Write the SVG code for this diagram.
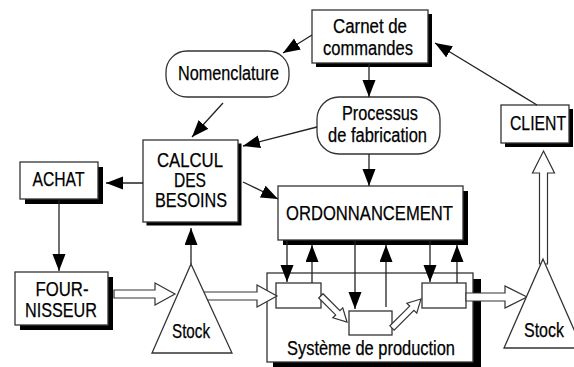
<svg xmlns="http://www.w3.org/2000/svg" width="574" height="367" viewBox="0 0 574 367">
  <style>
    .box { fill: #fff; stroke: #333; stroke-width: 1.3; }
    .shadow { fill: #000; }
    .pill { fill: #fff; stroke: #333; stroke-width: 1.3; }
    .tri { fill: #fff; stroke: #333; stroke-width: 1.3; }
    .hollow { fill: #fff; stroke: #333; stroke-width: 1.2; stroke-linejoin: miter; }
    .link { fill: none; stroke: #222; stroke-width: 1.3; marker-end: url(#ah); }
    text { font-family: "Liberation Sans", Arial, sans-serif; font-size: 20px; fill: #000; stroke: #000; stroke-width: 0.25; text-anchor: middle; }
  </style>
  <defs>
    <marker id="ah" markerUnits="userSpaceOnUse" markerWidth="18" markerHeight="14" refX="17" refY="6.5" orient="auto">
      <path d="M0,0 L17,6.5 L0,13 z" fill="#000"/>
    </marker>
  </defs>

  <rect width="574" height="367" fill="#fff"/>

  <!-- Order book -->
  <g id="carnet">
    <rect class="shadow" x="316" y="14" width="116" height="53"/>
    <rect class="box" x="312" y="10" width="116" height="53"/>
    <text x="370" y="33" textLength="74" lengthAdjust="spacingAndGlyphs">Carnet de</text>
    <text x="368" y="55" textLength="90" lengthAdjust="spacingAndGlyphs">commandes</text>
  </g>

  <!-- Bill of materials -->
  <g id="nomenclature">
    <rect class="pill" x="166" y="51" width="123" height="46" rx="21" ry="21"/>
    <text x="228.5" y="80" textLength="101" lengthAdjust="spacingAndGlyphs">Nomenclature</text>
  </g>

  <!-- Manufacturing process -->
  <g id="processus">
    <rect class="pill" x="317" y="97" width="123" height="57" rx="22" ry="22"/>
    <text x="380" y="120" textLength="76" lengthAdjust="spacingAndGlyphs">Processus</text>
    <text x="377.5" y="142" textLength="99" lengthAdjust="spacingAndGlyphs">de fabrication</text>
  </g>

  <!-- Customer -->
  <g id="client">
    <rect class="shadow" x="505" y="109" width="68" height="38"/>
    <rect class="box" x="501" y="105" width="68" height="38"/>
    <text x="538" y="130" font-size="18" textLength="56" lengthAdjust="spacingAndGlyphs">CLIENT</text>
  </g>

  <!-- Requirements calculation -->
  <g id="calcul">
    <rect class="shadow" x="146.5" y="143.5" width="95" height="82"/>
    <rect class="box" x="143" y="140" width="95" height="82"/>
    <text x="190" y="167" textLength="66" lengthAdjust="spacingAndGlyphs">CALCUL</text>
    <text x="190" y="187" textLength="32" lengthAdjust="spacingAndGlyphs">DES</text>
    <text x="191" y="207" textLength="72" lengthAdjust="spacingAndGlyphs">BESOINS</text>
  </g>

  <!-- Purchasing -->
  <g id="achat">
    <rect class="shadow" x="25" y="167" width="78" height="37"/>
    <rect class="box" x="20" y="162" width="78" height="37"/>
    <text x="58.5" y="186" textLength="52" lengthAdjust="spacingAndGlyphs">ACHAT</text>
  </g>

  <!-- Supplier -->
  <g id="fournisseur">
    <rect class="shadow" x="20" y="277" width="93" height="53"/>
    <rect class="box" x="15" y="272" width="93" height="53"/>
    <text x="62" y="296" textLength="53" lengthAdjust="spacingAndGlyphs">FOUR-</text>
    <text x="61" y="317" textLength="72" lengthAdjust="spacingAndGlyphs">NISSEUR</text>
  </g>

  <!-- Scheduling -->
  <g id="ordonnancement">
    <rect class="shadow" x="283" y="191" width="185" height="54"/>
    <rect class="box" x="278" y="186" width="185" height="54"/>
    <text x="369.5" y="220" textLength="167" lengthAdjust="spacingAndGlyphs">ORDONNANCEMENT</text>
  </g>

  <!-- Production system with its three workstations -->
  <g id="systeme">
    <rect class="shadow" x="273" y="279" width="208" height="88"/>
    <rect class="box" x="267" y="273" width="206" height="89"/>
    <text x="371" y="355" textLength="168" lengthAdjust="spacingAndGlyphs">Système de production</text>
  </g>
  <g id="poste1"><rect class="box" x="276" y="283" width="45" height="25"/></g>
  <g id="poste2"><rect class="box" x="349" y="311" width="43" height="24"/></g>
  <g id="poste3"><rect class="box" x="422" y="283" width="44" height="25"/></g>

  <!-- Connectors -->
  <g id="connectors">
    <line class="link" x1="312" y1="35" x2="283" y2="53"/>
    <line class="link" x1="369" y1="63" x2="369" y2="97"/>
    <line class="link" x1="369" y1="154" x2="369" y2="186"/>
    <line class="link" x1="537" y1="105" x2="435" y2="43"/>
    <line class="link" x1="317" y1="127" x2="243" y2="146"/>
    <line class="link" x1="223" y1="103" x2="192" y2="137"/>
    <line class="link" x1="143" y1="183" x2="106" y2="183"/>
    <line class="link" x1="243" y1="182" x2="278" y2="199"/>
    <line class="link" x1="191" y1="264" x2="191" y2="228"/>
    <line class="link" x1="59" y1="199" x2="59" y2="271"/>

    <line class="link" x1="287" y1="240" x2="287" y2="282"/>
    <line class="link" x1="312" y1="283" x2="312" y2="245"/>
    <line class="link" x1="355" y1="240" x2="355" y2="309"/>
    <line class="link" x1="386" y1="307" x2="386" y2="245"/>
    <line class="link" x1="430" y1="240" x2="430" y2="282"/>
    <line class="link" x1="457" y1="283" x2="457" y2="245"/>

    <!-- material flows -->
    <polygon class="hollow" points="175,294 155,283 155,290 114,290 114,298 155,298 155,305"/>
    <polygon class="hollow" points="277,296 257,285 257,292 198,292 198,300 257,300 257,307"/>
    <polygon class="hollow" points="527,297 505,286 505,293 466,293 466,301 505,301 505,308"/>
    <polygon class="hollow" points="543.5,151 554.5,173 547.5,173 547.5,264 539.5,264 539.5,173 532.5,173"/>
    <polygon class="hollow" transform="translate(347,322) rotate(45)" points="0,0 -13,-7 -13,-3 -37,-3 -37,3 -13,3 -13,7"/>
    <polygon class="hollow" transform="translate(421,299) rotate(-45)" points="0,0 -13,-7 -13,-3 -41,-3 -41,3 -13,3 -13,7"/>
  </g>

  <!-- Stocks -->
  <g id="stock1">
    <polygon class="tri" points="191,264 152,353 232,353"/>
    <text x="191" y="338" textLength="38" lengthAdjust="spacingAndGlyphs">Stock</text>
  </g>
  <g id="stock2">
    <polygon class="tri" points="543,259 504,348 582,348"/>
    <text x="544" y="337" textLength="40" lengthAdjust="spacingAndGlyphs">Stock</text>
  </g>
</svg>
